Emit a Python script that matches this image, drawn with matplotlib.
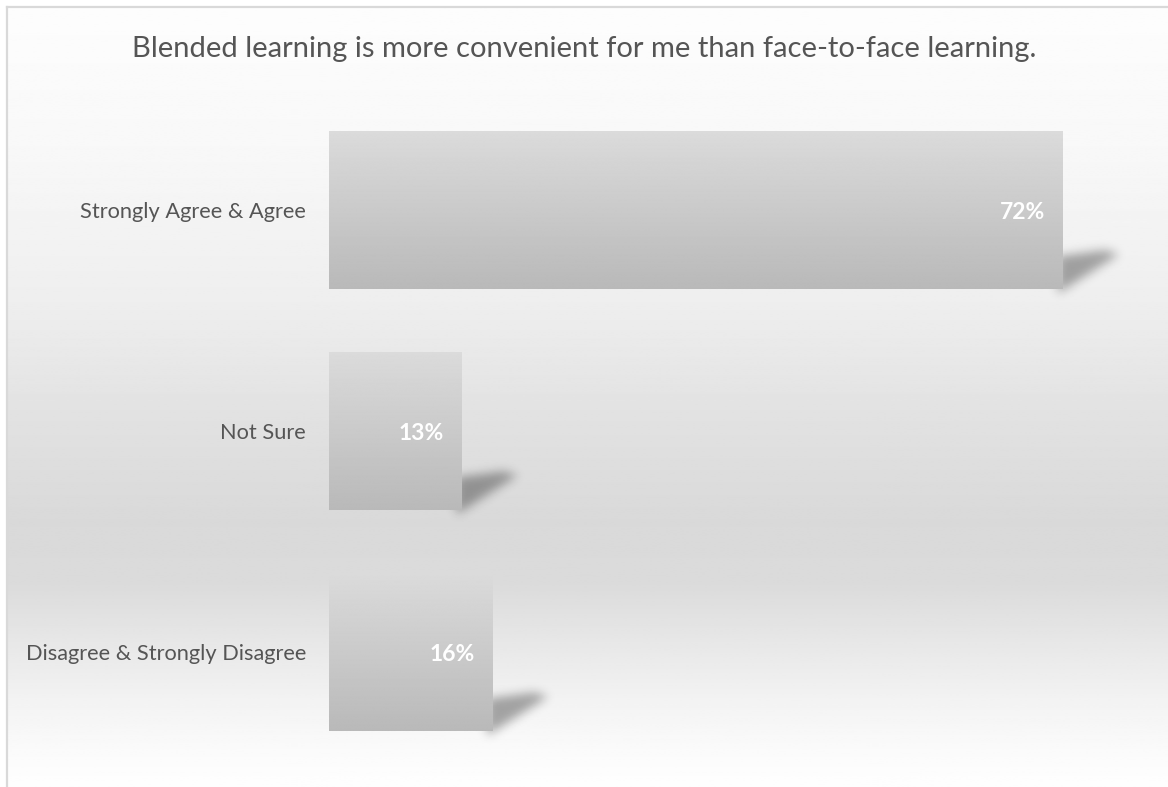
import numpy as np
import matplotlib
matplotlib.use("Agg")
import matplotlib.pyplot as plt
from matplotlib.lines import Line2D
from matplotlib.patches import Polygon
from matplotlib.transforms import ScaledTranslation

categories = ["Strongly Agree & Agree", "Not Sure", "Disagree & Strongly Disagree"]
values = [72, 13, 16]
value_labels = ["72%", "13%", "16%"]
title = "Blended learning is more convenient for me than face-to-face learning."

plt.rcParams["font.family"] = ["Lato", "DejaVu Sans"]
text_grey = "#555555"

W, H = 1168, 787
fig = plt.figure(figsize=(W / 100, H / 100), dpi=100)
fig.patch.set_facecolor("white")

# background: white at top, grey band low in the chart, white again at the bottom
bg = fig.add_axes([6 / W, 0, 1 - 6 / W, 1 - 7 / H], zorder=-10)
rows = np.linspace(0, 1, 400)
stops_y = [0.0, 0.18, 0.38, 0.52, 0.66, 0.74, 0.82, 0.90, 0.96, 1.0]
stops_v = [253, 248, 238, 226, 217, 219, 232, 244, 251, 254]
shade = np.interp(rows, stops_y, stops_v) / 255.0
bg.imshow(np.repeat(shade[:, None], 2, axis=1), cmap="gray", vmin=0, vmax=1,
          aspect="auto", extent=(0, 1, 1, 0))
bg.set_axis_off()

# chart frame (only top and left edges fall inside the picture)
fig.add_artist(Line2D([6.5 / W, 1], [1 - 7 / H, 1 - 7 / H], color="#d9d9d9", lw=1.6))
fig.add_artist(Line2D([6.5 / W, 6.5 / W], [0, 1 - 7 / H], color="#d9d9d9", lw=1.6))

fig.text(0.5, 1 - 49 / H, title, ha="center", va="center", fontsize=21, color=text_grey)

ax = fig.add_axes([329 / W, 1 - 763 / H, 815.5 / W, 663.5 / H])
ax.set_facecolor("none")
ax.set_xlim(0, 80)
ax.set_ylim(2.5, -0.5)
for s in ax.spines.values():
    s.set_visible(False)
ax.set_xticks([])
ax.set_yticks(range(len(categories)))
ax.set_yticklabels(categories, fontsize=15.7, color=text_grey)
ax.tick_params(axis="y", length=0, pad=16.5)


def gauss_blur(a, sigma):
    r = int(3 * sigma)
    k = np.exp(-0.5 * (np.arange(-r, r + 1) / sigma) ** 2)
    k /= k.sum()
    a = np.apply_along_axis(lambda v: np.convolve(v, k, mode="same"), 0, a)
    a = np.apply_along_axis(lambda v: np.convolve(v, k, mode="same"), 1, a)
    return a


def soft_shadow(im, dpi):
    pad = 20
    padded = np.pad(im, [(pad, pad), (pad, pad), (0, 0)])
    out = np.zeros_like(padded)
    out[:, :, 3] = gauss_blur(padded[:, :, 3], 5.0) * 0.34
    return out, -pad, -pad


bar_h = 0.715
bars = ax.barh(range(len(values)), values, height=bar_h, color="none", lw=0, zorder=3)

grad = np.linspace(219, 185, 200)[:, None] / 255.0
# shadow outline in inches, relative to each bar's lower-right corner
shadow_shape = [(-0.05, 0.33), (0.42, 0.39), (0.56, 0.35), (-0.05, -0.04)]

for i, (bar, v) in enumerate(zip(bars, values)):
    y0 = bar.get_y()
    y1 = y0 + bar.get_height()
    im = ax.imshow(np.repeat(grad, 2, axis=1), cmap="gray", vmin=0, vmax=1,
                   aspect="auto", extent=(0, v, y1, y0), zorder=3,
                   interpolation="bilinear")
    im.set_clip_path(bar)
    tr = fig.dpi_scale_trans + ScaledTranslation(v, y1, ax.transData)
    sh = Polygon(shadow_shape, closed=True, transform=tr, facecolor="black",
                 edgecolor="none", zorder=2)
    sh.set_agg_filter(soft_shadow)
    ax.add_patch(sh)
    ax.annotate(value_labels[i], xy=(v, i), xytext=(-12.5, -1.5), textcoords="offset points",
                ha="right", va="center", fontsize=16.5, fontweight="bold", color="white",
                zorder=5)

ax.set_xlim(0, 80)
ax.set_ylim(2.5, -0.5)

fig.savefig("out.png", dpi=100)
